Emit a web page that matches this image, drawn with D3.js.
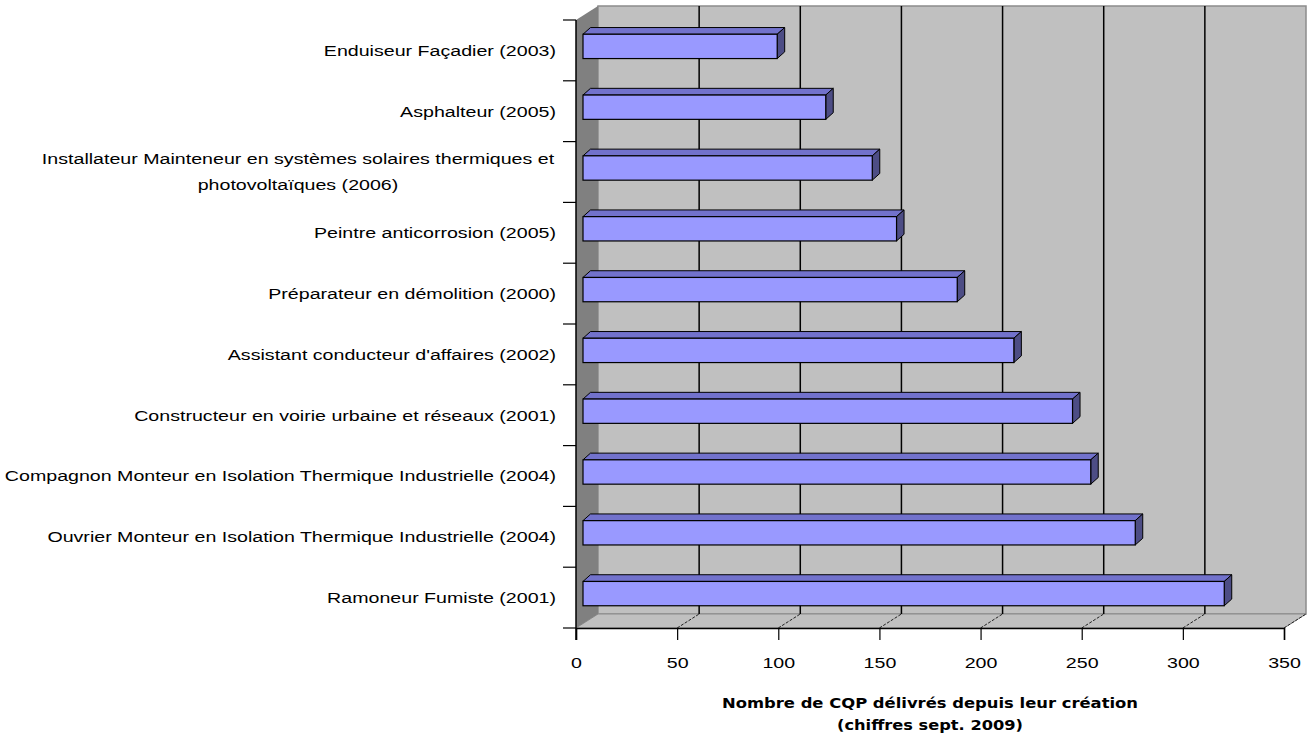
<!DOCTYPE html>
<html>
<head>
<meta charset="utf-8">
<script src="https://cdn.jsdelivr.net/npm/d3@7"></script>
<style>
  html, body { margin: 0; padding: 0; background: #fff; }
  svg { display: block; }
</style>
</head>
<body>
<svg id="chart" width="1314" height="740"></svg>
<script>
// CQP certificates awarded since creation (Sept. 2009 figures)
const categories = [
  "Enduiseur Façadier (2003)",
  "Asphalteur (2005)",
  "Installateur Mainteneur en systèmes solaires thermiques et|photovoltaïques (2006)",
  "Peintre anticorrosion (2005)",
  "Préparateur en démolition (2000)",
  "Assistant conducteur d'affaires (2002)",
  "Constructeur en voirie urbaine et réseaux (2001)",
  "Compagnon Monteur en Isolation Thermique Industrielle (2004)",
  "Ouvrier Monteur en Isolation Thermique Industrielle (2004)",
  "Ramoneur Fumiste (2001)"
];
const values = [96, 120, 143, 155, 185, 213, 242, 251, 273, 317];
const xTicks = [0, 50, 100, 150, 200, 250, 300, 350];
const axisTitle = ["Nombre de CQP délivrés depuis leur création", "(chiffres sept. 2009)"];

const svg = d3.select("#chart");

// front plane of the plot box
const plotLeft = 576, plotRight = 1284, plotTop = 20, plotBottom = 628;
// depth of the 3D box (back wall offset)
const DX = 22, DY = -14;
// bars sit a third of the way into the box, with their own depth
const BX = 7, BY = -4, BDX = 7.5, BDY = -6.7;

const FONT = "Liberation Sans, Arial, sans-serif";
const FONT_SIZE = 15.5;
const WIDEN = 1.265; // the labels use a wide sans face; stretch Liberation horizontally

const x = d3.scaleLinear().domain([0, 350]).range([plotLeft, plotRight]);
const y = d3.scaleBand().domain(categories).range([plotTop, plotBottom]).paddingInner(0).paddingOuter(0);
const barH = y.bandwidth() / 2.5;

const poly = pts => pts.map(p => p.join(",")).join(" ");

function widen(sel) {
  sel.each(function() {
    const w = this.getComputedTextLength();
    d3.select(this).attr("textLength", w * WIDEN).attr("lengthAdjust", "spacingAndGlyphs");
  });
}

// back wall
svg.append("polygon")
  .attr("points", poly([[plotLeft + DX, plotTop + DY], [plotRight + DX, plotTop + DY], [plotRight + DX, plotBottom + DY], [plotLeft + DX, plotBottom + DY]]))
  .attr("fill", "#c0c0c0").attr("stroke", "#8c8c8c").attr("stroke-width", 1.5);

// floor
svg.append("polygon")
  .attr("points", poly([[plotLeft, plotBottom], [plotRight, plotBottom], [plotRight + DX, plotBottom + DY], [plotLeft + DX, plotBottom + DY]]))
  .attr("fill", "#c0c0c0").attr("stroke", "#8c8c8c").attr("stroke-width", 1);

// left wall
svg.append("polygon")
  .attr("points", poly([[plotLeft, plotTop], [plotLeft + DX, plotTop + DY], [plotLeft + DX, plotBottom + DY], [plotLeft, plotBottom]]))
  .attr("fill", "#808080").attr("stroke", "none");

// gridlines on the back wall and their traces across the floor
const grid = svg.append("g");
xTicks.filter(t => t > 0 && t < 350).forEach(t => {
  grid.append("line")
    .attr("x1", x(t) + DX).attr("x2", x(t) + DX)
    .attr("y1", plotTop + DY).attr("y2", plotBottom + DY)
    .attr("stroke", "#000").attr("stroke-width", 1.5);
});
xTicks.filter(t => t > 0).forEach(t => {
  grid.append("line")
    .attr("x1", x(t)).attr("y1", plotBottom)
    .attr("x2", x(t) + DX).attr("y2", plotBottom + DY)
    .attr("stroke", "#222").attr("stroke-width", 1).attr("stroke-dasharray", "3,1.5");
});

// bars: front, top and side faces
const bars = svg.append("g").selectAll("g").data(categories).join("g");
bars.each(function(c, i) {
  const g = d3.select(this);
  const x0 = x(0) + BX, x1 = x(values[i]) + BX;
  const yc = y(c) + y.bandwidth() / 2 + BY;
  const y0 = yc - barH / 2, y1 = yc + barH / 2;
  g.append("polygon")
    .attr("points", poly([[x0, y0], [x1, y0], [x1 + BDX, y0 + BDY], [x0 + BDX, y0 + BDY]]))
    .attr("fill", "#7272cc").attr("stroke", "#000").attr("stroke-width", 1).attr("stroke-linejoin", "round");
  g.append("polygon")
    .attr("points", poly([[x1, y0], [x1 + BDX, y0 + BDY], [x1 + BDX, y1 + BDY], [x1, y1]]))
    .attr("fill", "#4d4d85").attr("stroke", "#000").attr("stroke-width", 1).attr("stroke-linejoin", "round");
  g.append("rect")
    .attr("x", x0).attr("y", y0).attr("width", x1 - x0).attr("height", y1 - y0)
    .attr("fill", "#9999ff").attr("stroke", "#000").attr("stroke-width", 1.2);
});

// category axis
const yAxisG = svg.append("g");
yAxisG.append("line")
  .attr("x1", plotLeft).attr("x2", plotLeft).attr("y1", plotTop).attr("y2", plotBottom + 12)
  .attr("stroke", "#000").attr("stroke-width", 1.5);
d3.range(categories.length + 1).forEach(k => {
  const yy = plotTop + k * y.bandwidth();
  yAxisG.append("line")
    .attr("x1", plotLeft - 13).attr("x2", plotLeft).attr("y1", yy).attr("y2", yy)
    .attr("stroke", "#000").attr("stroke-width", 1.2);
});
categories.forEach(c => {
  const lines = c.split("|");
  const cy = y(c) + y.bandwidth() / 2;
  if (lines.length === 1) {
    yAxisG.append("text")
      .attr("font-family", FONT).attr("font-size", FONT_SIZE).attr("fill", "#000")
      .attr("x", 556).attr("y", cy).attr("dy", "0.35em").attr("text-anchor", "end")
      .text(lines[0]).call(widen);
  } else {
    lines.forEach((ln, j) => {
      yAxisG.append("text")
        .attr("font-family", FONT).attr("font-size", FONT_SIZE).attr("fill", "#000")
        .attr("x", 298).attr("y", cy + (j - (lines.length - 1) / 2) * 26)
        .attr("dy", "0.35em").attr("text-anchor", "middle")
        .text(ln).call(widen);
    });
  }
});

// value axis
const xAxisG = svg.append("g").attr("transform", `translate(0,${plotBottom})`)
  .call(d3.axisBottom(x).tickValues(xTicks).tickSize(12).tickPadding(17).tickFormat(d3.format("d")));
xAxisG.select(".domain").attr("stroke", "#000").attr("stroke-width", 1.5);
xAxisG.selectAll(".tick line").attr("stroke", "#000").attr("stroke-width", 1.2);
xAxisG.selectAll(".tick text")
  .attr("font-family", FONT).attr("font-size", FONT_SIZE).attr("fill", "#000")
  .call(widen);

// axis title
axisTitle.forEach((ln, j) => {
  svg.append("text")
    .attr("x", 930).attr("y", 708 + j * 22)
    .attr("text-anchor", "middle")
    .attr("font-family", "DejaVu Sans, Verdana, sans-serif")
    .attr("font-weight", "bold").attr("font-size", 13.5)
    .attr("textLength", j === 0 ? 416 : 186).attr("lengthAdjust", "spacingAndGlyphs")
    .text(ln);
});
</script>
</body>
</html>
